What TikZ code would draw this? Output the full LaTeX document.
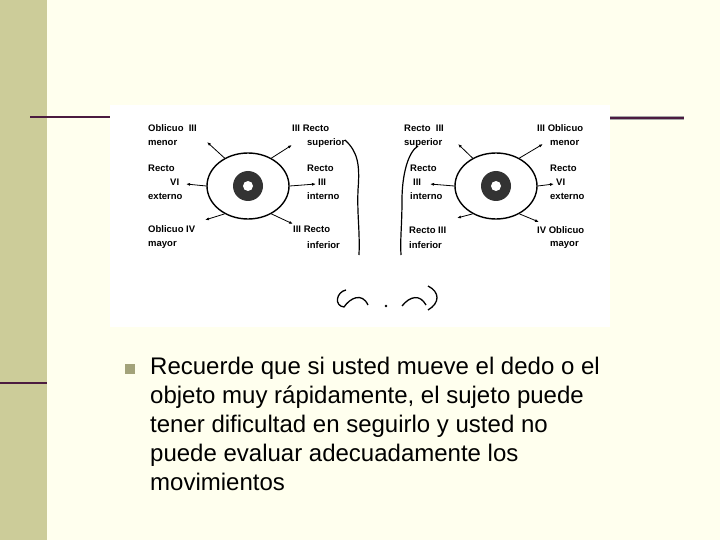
\documentclass[tikz,border=0pt]{standalone}
\usepackage{fontspec}
\setmainfont{Liberation Sans}
\usetikzlibrary{arrows.meta,shapes.geometric}
\definecolor{bg}{HTML}{FFFFEE}
\definecolor{strip}{HTML}{CCCC99}
\definecolor{rule}{HTML}{4B1B3F}
\begin{document}
\begin{tikzpicture}[x=1pt,y=-1pt,
  lab/.style={font=\bfseries\fontsize{9.5}{10}\selectfont,inner sep=0pt,anchor=west},
  mus/.style={line width=0.8pt,-{Latex[length=4pt,width=3pt]}},
  body/.style={font=\fontsize{24}{29}\selectfont,inner sep=0pt,anchor=north west,align=left}]
\useasboundingbox (0,0) rectangle (720,540);
\fill[bg] (0,0) rectangle (720,540);
\fill[strip] (0,0) rectangle (47,540);
\draw[rule,line width=2.5pt] (30,117) -- (110,117);
\draw[rule,line width=2.5pt] (0,383) -- (47,383);
\draw[gray!70,line width=4pt] (610,118) -- (684,118);
\draw[rule,line width=1.2pt] (610,118) -- (684,118);
\fill[white] (110,105) rectangle (610,327);
% eyes
\node[draw,line width=1.4pt,ellipse,minimum width=82pt,minimum height=66pt,inner sep=0pt] (le) at (248,186) {};
\fill[black!80] (le.center) circle (15);
\fill[white] (le.center) circle (5);
\node[draw,line width=1.4pt,ellipse,minimum width=82pt,minimum height=66pt,inner sep=0pt] (re) at (496,186) {};
\fill[black!80] (re.center) circle (15);
\fill[white] (re.center) circle (5);
% left arrows
\coordinate (a1) at (207,142); \coordinate (a2) at (292,145);
\coordinate (a3) at (186,184); \coordinate (a4) at (316,184);
\coordinate (a5) at (205,220); \coordinate (a6) at (293,224);
\draw[mus] (le.130) -- (a1); \draw[mus] (le.50) -- (a2);
\draw[mus] (le.west) -- (a3); \draw[mus] (le.east) -- (a4);
\draw[mus] (le.230) -- (a5); \draw[mus] (le.310) -- (a6);
\coordinate (b1) at (458,144); \coordinate (b2) at (543,144);
\coordinate (b3) at (430,184); \coordinate (b4) at (554,184);
\coordinate (b5) at (457,218); \coordinate (b6) at (539,222);
\draw[mus] (re.130) -- (b1); \draw[mus] (re.50) -- (b2);
\draw[mus] (re.west) -- (b3); \draw[mus] (re.east) -- (b4);
\draw[mus] (re.230) -- (b5); \draw[mus] (re.310) -- (b6);
% left labels
\node[lab] (l1) at (148,128) {Oblicuo\ \ III};
\node[lab] (l2) at (148,143) {menor};
\node[lab] (l3) at (148,168) {Recto};
\node[lab] (l4) at (170,182) {VI};
\node[lab] (l5) at (148,196) {externo};
\node[lab] (l6) at (148,229) {Oblicuo IV};
\node[lab] (l7) at (148,245) {mayor};
\node[lab] (l8) at (292,128) {III Recto};
\node[lab] (l9) at (307,143) {superior};
\node[lab] (l10) at (307,168) {Recto};
\node[lab] (l11) at (318,182) {III};
\node[lab] (l12) at (307,196) {interno};
\node[lab] (l13) at (293,229) {III Recto};
\node[lab] (l14) at (307,245) {inferior};
% right labels
\node[lab] (r1) at (404,128) {Recto\ \ III};
\node[lab] (r2) at (404,143) {superior};
\node[lab] (r3) at (410,168) {Recto};
\node[lab] (r4) at (413,182) {III};
\node[lab] (r5) at (410,196) {interno};
\node[lab] (r6) at (409,230) {Recto III};
\node[lab] (r7) at (409,245) {inferior};
\node[lab] (r8) at (537,128) {III Oblicuo};
\node[lab] (r9) at (550,143) {menor};
\node[lab] (r10) at (550,168) {Recto};
\node[lab] (r11) at (556,182) {VI};
\node[lab] (r12) at (550,196) {externo};
\node[lab] (r13) at (537,230) {IV Oblicuo};
\node[lab] (r14) at (550,245) {mayor};
% nose
\draw[line width=1.2pt] (345,140) .. controls (358,152) and (360,165) .. (358,190) .. controls (357,215) and (360,230) .. (359,255);
\draw[line width=1.2pt] (418,146) .. controls (408,152) and (402,175) .. (402,200) .. controls (402,225) and (400,240) .. (401,255);
\draw[line width=1.3pt] (346,290) .. controls (336,292) and (334,306) .. (344,307) .. controls (350,298) and (362,292) .. (368,305);
\fill (386,306) circle (1.3);
\draw[line width=1.3pt] (402,306) .. controls (410,296) and (420,294) .. (426,305);
\draw[line width=1.3pt] (428,286) .. controls (440,292) and (440,303) .. (428,310);
% bullet text
\coordinate (bul) at (130,369);
\fill[strip!80!black] ([shift={(-5,-5)}]bul) rectangle ([shift={(5,5)}]bul);
\node[body] (txt) at (150,357) {Recuerde que si usted mueve el dedo o el\\objeto muy rápidamente, el sujeto puede\\tener dificultad en seguirlo y usted no\\puede evaluar adecuadamente los\\movimientos};
\end{tikzpicture}
\end{document}
